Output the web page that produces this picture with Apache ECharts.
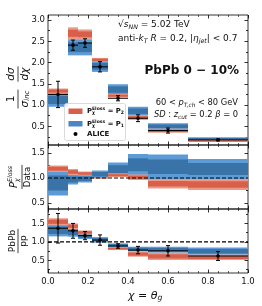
<!DOCTYPE html>
<html><head><meta charset="utf-8">
<script src="https://cdn.jsdelivr.net/npm/echarts@6/dist/echarts.min.js"></script>
<style>html,body{margin:0;padding:0;background:#fff}#c{width:262px;height:306px}</style>
</head><body><div id="c"></div>
<script>
// ---------- data ----------
const binEdges   = [0, 0.1, 0.15, 0.22, 0.3, 0.4, 0.5, 0.7, 1.0];
const binCenters = [0.05, 0.125, 0.185, 0.26, 0.35, 0.45, 0.6, 0.85];
const xTickValues = [0, 0.2, 0.4, 0.6, 0.8, 1.0];

// top panel: 1/sigma dsigma/dchi
const aliceTop    = [1.25, 2.41, 2.46, 1.90, 1.16, 0.69, 0.40, 0.18];
const aliceTopErr = [0.31, 0.12, 0.10, 0.12, 0.06, 0.08, 0.06, 0.02];
const p1TopLo = [0.96, 2.17, 2.17, 1.78, 1.24, 0.75, 0.43, 0.17];
const p1TopHi = [1.28, 2.55, 2.55, 2.04, 1.49, 0.96, 0.57, 0.24];
const p2TopLo = [1.27, 2.55, 2.55, 2.02, 1.18, 0.65, 0.35, 0.13];
const p2TopHi = [1.39, 2.83, 2.78, 2.11, 1.26, 0.76, 0.44, 0.18];

// middle panel: model / data
const p1MidLo = [0.65, 0.87, 0.91, 1.00, 1.04, 1.05, 0.98, 0.98];
const p1MidHi = [1.15, 1.07, 1.06, 1.15, 1.31, 1.48, 1.47, 1.38];
const p2MidLo = [1.12, 1.06, 1.05, 0.99, 1.02, 0.96, 0.79, 0.76];
const p2MidHi = [1.25, 1.18, 1.13, 1.01, 1.09, 1.07, 0.98, 0.98];

// bottom panel: PbPb / pp
const aliceRatio    = [1.37, 1.30, 1.17, 1.05, 0.89, 0.78, 0.76, 0.62];
const aliceRatioErr = [0.40, 0.20, 0.11, 0.14, 0.06, 0.10, 0.14, 0.12];
const p1BotLo = [1.15, 1.14, 1.08, 0.98, 0.86, 0.74, 0.71, 0.65];
const p1BotHi = [1.48, 1.37, 1.22, 1.13, 0.96, 0.87, 0.87, 0.85];
const p2BotLo = [1.45, 1.35, 1.20, 1.00, 0.78, 0.60, 0.51, 0.51];
const p2BotHi = [1.64, 1.50, 1.31, 1.02, 0.86, 0.74, 0.71, 0.65];

const topTicks = [0.5, 1.0, 1.5, 2.0, 2.5, 3.0];
const topMinor = [0.25, 0.75, 1.25, 1.75, 2.25, 2.75];
const ratioTicks = [0.5, 1.0, 1.5];
const ratioMinor = [0.25, 0.75, 1.25, 1.75];

// ---------- style ----------
const BLUE_L = '#5c9bd6', BLUE_D = '#3a73a8';
const RED_L  = '#ec9a86', RED_D  = '#d8604a';
const FONT = '"DejaVu Sans"';

const panels = [
  {top: 15,  height: 130, min: 0.06, max: 3.12, ticks: topTicks,   minor: topMinor},
  {top: 145, height: 64,  min: 0.38, max: 1.66, ticks: ratioTicks, minor: ratioMinor},
  {top: 209, height: 64,  min: 0.16, max: 1.89, ticks: ratioTicks, minor: ratioMinor}
];

const grids = [], xAxes = [], yAxes = [], series = [];
panels.forEach((p, i) => {
  grids.push({left: 48, right: 14, top: p.top, height: p.height, show: true,
              borderColor: '#000', borderWidth: 0.8, backgroundColor: 'transparent'});
  ['bottom', 'top'].forEach(pos => {
    xAxes.push({gridIndex: i, type: 'value', position: pos, min: 0, max: 1, interval: 0.2,
      axisLine: {show: false}, splitLine: {show: false},
      axisTick: {show: true, inside: true, length: 3.5, lineStyle: {color: '#000', width: 0.8}},
      minorTick: {show: true, splitNumber: 4, length: 2, lineStyle: {color: '#000', width: 0.6}},
      axisLabel: {show: (i === 2 && pos === 'bottom'), fontSize: 8.5, fontFamily: FONT, color: '#111', margin: 4,
        formatter: v => v.toFixed(1)}});
  });
  const mk = (pos, vals, len, lab) => ({gridIndex: i, type: 'value', position: pos, min: p.min, max: p.max,
      axisLine: {show: false}, splitLine: {show: false},
      axisTick: {show: true, inside: true, length: len, customValues: vals, lineStyle: {color: '#000', width: 0.8}},
      axisLabel: {show: lab, customValues: vals, fontSize: 8.5, fontFamily: FONT, color: '#111', margin: 3,
        formatter: v => v.toFixed(1)}});
  yAxes.push(mk('left', p.ticks, 3.5, true));
  yAxes.push(mk('left', p.minor, 2, false));
  yAxes.push(mk('right', p.ticks, 3.5, false));
  yAxes.push(mk('right', p.minor, 2, false));
});

function bandData(lo, hi) { return lo.map((l, i) => [binEdges[i], binEdges[i + 1], l, hi[i]]); }
function pointData(y, err) { return y.map((v, i) => [binCenters[i], v, err[i], binEdges[i], binEdges[i + 1]]); }

function bandRender(light, dark) {
  return function (params, api) {
    const a = api.coord([api.value(0), api.value(3)]);
    const b = api.coord([api.value(1), api.value(2)]);
    const x = a[0], y = a[1], w = b[0] - a[0], h = b[1] - a[1];
    const ins = h * 0.2;
    return {type: 'group', children: [
      {type: 'rect', shape: {x: x, y: y, width: w, height: h}, style: {fill: light}},
      {type: 'rect', shape: {x: x, y: y + ins, width: w, height: h - 2 * ins}, style: {fill: dark}}
    ]};
  };
}
function pointRender(params, api) {
  const xc = api.value(0), y = api.value(1), e = api.value(2), x0 = api.value(3), x1 = api.value(4);
  const pc = api.coord([xc, y]), pl = api.coord([x0, y]), pr = api.coord([x1, y]);
  const pt = api.coord([xc, y + e]), pb = api.coord([xc, y - e]);
  const st = {stroke: '#000', lineWidth: 1};
  return {type: 'group', children: [
    {type: 'line', shape: {x1: pl[0], y1: pl[1], x2: pr[0], y2: pr[1]}, style: st},
    {type: 'line', shape: {x1: pt[0], y1: pt[1], x2: pb[0], y2: pb[1]}, style: st},
    {type: 'line', shape: {x1: pt[0] - 2, y1: pt[1], x2: pt[0] + 2, y2: pt[1]}, style: st},
    {type: 'line', shape: {x1: pb[0] - 2, y1: pb[1], x2: pb[0] + 2, y2: pb[1]}, style: st},
    {type: 'circle', shape: {cx: pc[0], cy: pc[1], r: 1.8}, style: {fill: '#000'}}
  ]};
}
function addBand(i, lo, hi, light, dark, z) {
  series.push({type: 'custom', xAxisIndex: 2 * i, yAxisIndex: 4 * i, clip: true, z: z,
    renderItem: bandRender(light, dark), encode: {x: [0, 1], y: [2, 3]}, data: bandData(lo, hi), silent: true});
}
function addPoints(i, y, err) {
  series.push({type: 'custom', xAxisIndex: 2 * i, yAxisIndex: 4 * i, clip: false, z: 5,
    renderItem: pointRender, encode: {x: 0, y: 1}, data: pointData(y, err), silent: true});
}
function addUnity(i) {
  series.push({type: 'line', xAxisIndex: 2 * i, yAxisIndex: 4 * i, z: 4, symbol: 'none', silent: true,
    lineStyle: {color: '#000', width: 1.2, type: [4, 2]}, data: [[0, 1], [1, 1]]});
}
addBand(0, p1TopLo, p1TopHi, BLUE_L, BLUE_D, 1);
addBand(0, p2TopLo, p2TopHi, RED_L, RED_D, 2);
addPoints(0, aliceTop, aliceTopErr);
addBand(1, p1MidLo, p1MidHi, BLUE_L, BLUE_D, 1);
addBand(1, p2MidLo, p2MidHi, RED_L, RED_D, 2);
addUnity(1);
addBand(2, p1BotLo, p1BotHi, BLUE_L, BLUE_D, 1);
addBand(2, p2BotLo, p2BotHi, RED_L, RED_D, 2);
addUnity(2);
addPoints(2, aliceRatio, aliceRatioErr);

// ---------- text helpers ----------
const mctx = document.createElement('canvas').getContext('2d');
function fstr(p) { return (p.it ? 'italic ' : '') + (p.b ? 'bold ' : '') + p.s + 'px ' + FONT; }
function layout(parts) {
  const w = parts.map(p => { mctx.font = fstr(p); return mctx.measureText(p.t).width; });
  const xs = []; let cur = 0;
  for (let i = 0; i < parts.length; i++) {
    xs.push(cur);
    if (!parts[i].stack) {
      let ww = w[i];
      if (i > 0 && parts[i - 1].stack) ww = Math.max(ww, w[i - 1]);
      cur += ww;
    }
  }
  return {xs: xs, total: cur};
}
function mathText(parts, x0, y0, align, color) {
  const L = layout(parts);
  const off = align === 'center' ? -L.total / 2 : align === 'right' ? -L.total : 0;
  return parts.map((p, i) => ({type: 'text', x: x0 + off + L.xs[i], y: y0 + (p.dy || 0), z: 100,
    style: {text: p.t, font: fstr(p), fill: color || '#111', align: 'left', verticalAlign: 'middle',
            textAlign: 'left', textVerticalAlign: 'middle'}}));
}
function fraction(dx, num, den, gap1, gap2) {
  const bw = Math.max(layout(num).total, layout(den).total) + 2;
  const ch = [].concat(mathText(num, dx, -gap1, 'center'), mathText(den, dx, gap2, 'center'));
  ch.push({type: 'line', shape: {x1: dx - bw / 2, y1: 0, x2: dx + bw / 2, y2: 0}, style: {stroke: '#111', lineWidth: 0.8}});
  return ch;
}

const g = [];
// annotations
const S = 9, s = 6.3;
g.push(...mathText([{t: '√', s: S}, {t: 's', s: S, it: 1}, {t: 'NN', s: s, it: 1, dy: 2}, {t: ' = 5.02 TeV', s: S}], 118, 25, 'left'));
g.push(...mathText([{t: 'anti-', s: S}, {t: 'k', s: S, it: 1}, {t: 'T', s: s, it: 1, dy: 2}, {t: ' ', s: S}, {t: 'R', s: S, it: 1},
  {t: ' = 0.2, |', s: S}, {t: 'η', s: S, it: 1}, {t: 'jet', s: s, it: 1, dy: 2}, {t: '| < 0.7', s: S}], 118, 39, 'left'));
g.push(...mathText([{t: 'PbPb 0 − 10%', s: 12, b: 1}], 239, 71, 'right'));
const S2 = 8.3, s2 = 5.8;
g.push(...mathText([{t: '60 < ', s: S2}, {t: 'p', s: S2, it: 1}, {t: 'T,ch', s: s2, it: 1, dy: 2}, {t: ' < 80 GeV', s: S2}], 238, 103, 'right'));
g.push(...mathText([{t: 'SD', s: S2, it: 1}, {t: ' : ', s: S2}, {t: 'z', s: S2, it: 1}, {t: 'cut', s: s2, it: 1, dy: 2},
  {t: ' = 0.2 ', s: S2}, {t: 'β', s: S2, it: 1}, {t: ' = 0', s: S2}], 238, 115, 'right'));

// legend
g.push({type: 'rect', z: 99, shape: {x: 64.5, y: 103.5, width: 61, height: 37, r: 2},
  style: {fill: 'rgba(255,255,255,0.85)', stroke: '#d0d0d0', lineWidth: 0.8}});
g.push({type: 'rect', z: 100, shape: {x: 68.5, y: 108.5, width: 14, height: 5.5}, style: {fill: RED_D}});
g.push({type: 'rect', z: 100, shape: {x: 68.5, y: 121, width: 14, height: 5.5}, style: {fill: '#4a86c0'}});
g.push({type: 'circle', z: 100, shape: {cx: 75.5, cy: 134, r: 2}, style: {fill: '#000'}});
const L = 6.8, l = 4.6;
g.push(...mathText([{t: 'P', s: L, b: 1}, {t: 'Eloss', s: l, b: 1, dy: -2.5, stack: 1}, {t: 'χ', s: l, b: 1, dy: 2}, {t: ' = P', s: L, b: 1}, {t: '2', s: l, b: 1, dy: 2}], 87, 111, 'left'));
g.push(...mathText([{t: 'P', s: L, b: 1}, {t: 'Eloss', s: l, b: 1, dy: -2.5, stack: 1}, {t: 'χ', s: l, b: 1, dy: 2}, {t: ' = P', s: L, b: 1}, {t: '1', s: l, b: 1, dy: 2}], 87, 124, 'left'));
g.push(...mathText([{t: 'ALICE', s: 7, b: 1}], 87, 134, 'left'));

// y titles (rotated)
const topLab = [].concat(
  fraction(-13, [{t: '1', s: 10.5}], [{t: 'σ', s: 10.5, it: 1}, {t: 'inc', s: 7, it: 1, dy: 2}], 6.5, 7),
  fraction(12, [{t: 'd', s: 10.5, it: 1}, {t: 'σ', s: 10.5, it: 1}], [{t: 'd', s: 10.5, it: 1}, {t: 'χ', s: 10.5, it: 1}], 6.5, 7)
);
g.push({type: 'group', x: 18, y: 86, rotation: Math.PI / 2, children: topLab});
g.push({type: 'group', x: 22, y: 177, rotation: Math.PI / 2,
  children: fraction(0, [{t: 'P', s: 10, it: 1}, {t: 'Eloss', s: 6.3, it: 1, dy: -4, stack: 1}, {t: 'χ', s: 6.3, it: 1, dy: 3}],
                        [{t: 'Data', s: 8.5}], 7.5, 5.5)});
g.push({type: 'group', x: 18, y: 241, rotation: Math.PI / 2,
  children: fraction(0, [{t: 'PbPb', s: 9}], [{t: 'pp', s: 9}], 5.5, 5.5)});

// x title
g.push(...mathText([{t: 'χ', s: 11, it: 1}, {t: ' = ', s: 11}, {t: 'θ', s: 11, it: 1}, {t: 'g', s: 7.7, it: 1, dy: 2.5}], 128, 296, 'left'));

const chart = echarts.init(document.getElementById('c'), null, {renderer: 'canvas'});
chart.setOption({
  animation: false,
  backgroundColor: '#fff',
  grid: grids, xAxis: xAxes, yAxis: yAxes, series: series,
  graphic: {elements: g}
});
</script>
</body></html>
